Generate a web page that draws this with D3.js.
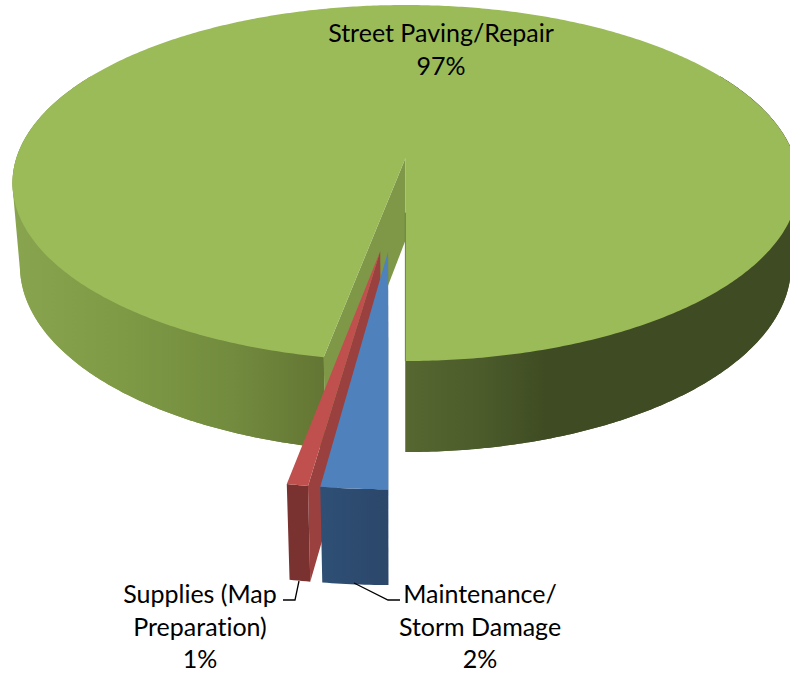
<!DOCTYPE html>
<html>
<head>
<meta charset="utf-8">
<script src="https://cdn.jsdelivr.net/npm/d3@7/dist/d3.min.js"></script>
<style>html,body{margin:0;padding:0;background:#fff;overflow:hidden}svg{display:block}text{font-variant-ligatures:none}</style>
</head>
<body>
<div id="chart"></div>
<script>
// ---- data ----
const categories = ["Maintenance/ Storm Damage", "Supplies (Map Preparation)", "Street Paving/Repair"];
const values = [2.2, 0.7, 97.1];
const percentLabels = ["2%", "1%", "97%"];
const labelLines = [["Maintenance/", "Storm Damage"], ["Supplies (Map", "Preparation)"], ["Street Paving/Repair"]];

// ---- view / style ----
const W = 790, H = 673;
const cx = 405.5, cy = 158, Rx = 389.1, Ry = 174.5, Depth = 83.8, kv = 0.1405, kz = 0.019;
const explodeDist = [0.5, 0.5, 0];
const explodeShift = [0.0143, -0.039, 0];
const explodeSpin = [-0.0063, 0, 0];
const topCol = ["#4f81bd", "#c0504d", "#9bbb59"];
const frontCol = ["#2f4d72", "#7a3230", null];
const cutCol = ["#3f6596", "#9a403e", "#7f9848"];

const svg = d3.select("#chart").append("svg").attr("width", W).attr("height", H);
const defs = svg.append("defs");
function grad(id, x1, x2, stops){
  const g = defs.append("linearGradient").attr("id", id).attr("gradientUnits","userSpaceOnUse")
    .attr("x1",x1).attr("x2",x2).attr("y1",0).attr("y2",0);
  stops.forEach(s => g.append("stop").attr("offset",s[0]).attr("stop-color",s[1]));
}
grad("wallL", 15, 325, [[0,"#89a44f"],[0.35,"#7e9a45"],[0.7,"#728b3e"],[1,"#637533"]]);
grad("wallR", 406, 790, [[0,"#566731"],[0.2,"#4b5b2a"],[0.36,"#3f4c23"],[1,"#3f4c23"]]);
grad("blueF", 320, 390, [[0,"#2f4f75"],[1,"#2b476a"]]);

function project(u, v, z){
  const w = 1 - kv*v + kz*z;
  return [cx + Rx*u/w, cy + (Ry*v + Depth*z)/w];
}
const pie = d3.pie().sort(null).value(d=>d).startAngle(Math.PI).endAngle(3*Math.PI);
const arcs = pie(values);
const line = d3.line();

const pieces = arcs.map((a,i)=>{
  const mid = (a.startAngle+a.endAngle)/2 + explodeShift[i];
  const ou = Math.sin(mid)*explodeDist[i], ov = -Math.cos(mid)*explodeDist[i];
  const sp = explodeSpin[i];
  const P = (r,ang,z)=>project(ou + r*Math.sin(ang+sp), ov - r*Math.cos(ang+sp), z);
  const rim = (from,to,z)=>{
    const n = Math.max(2, Math.ceil(Math.abs(to-from)/0.01));
    return d3.range(n+1).map(j=>P(1, from+(to-from)*j/n, z));
  };
  return {a,i,P,rim};
});

function poly(g, pts, fill){
  return g.append("path").attr("d", line(pts)+"Z").attr("fill", fill);
}
function wall(g, p, from, to, fill){
  const top = p.rim(from,to,0), bot = p.rim(from,to,1);
  poly(g, d3.polygonHull(top.concat(bot)), fill);   // fills the silhouette between the two rims
  poly(g, top.concat(bot.slice().reverse()), fill);
}
const deg = Math.PI/180;
const g = svg.append("g");

// street paving slice (back)
(function(){
  const p = pieces[2], s = p.a.startAngle, e = p.a.endAngle;
  wall(g, p, s, 300*deg, "url(#wallL)");
  wall(g, p, 420*deg, e, "url(#wallR)");
  poly(g, [p.P(0,0,0), p.P(1,s,0), p.P(1,s,1), p.P(0,0,1)], cutCol[2]);
  g.append("path").attr("d", line([p.P(0.3,e,0), p.P(1,e,0)])).attr("stroke","#4c5c2b").attr("stroke-width",1.2).attr("fill","none");
  poly(g, [p.P(0,0,0)].concat(p.rim(s,e,0)), topCol[2]);
})();

// exploded slices: supplies behind maintenance
[1,0].forEach(i=>{
  const p = pieces[i], s = p.a.startAngle, e = p.a.endAngle;
  poly(g, [p.P(0,0,0), p.P(1,s,0), p.P(1,s,1), p.P(0,0,1)], cutCol[i]);
  poly(g, p.rim(s,e,0).concat(p.rim(s,e,1).reverse()), i===0 ? "url(#blueF)" : frontCol[i]);
  poly(g, [p.P(0,0,0)].concat(p.rim(s,e,0)), topCol[i]);
});

// leader lines
const leaders = [
  [[354,583],[388,600],[400,600]],
  [[299,581],[295,600],[283,600]]
];
leaders.forEach(l=>svg.append("path").attr("d",line(l)).attr("fill","none").attr("stroke","#000").attr("stroke-width",1.3));

// labels
const textPos = [[480,603],[200,603],[441,42]];
labelLines.forEach((lines,i)=>{
  const t = svg.append("text").attr("text-anchor","middle")
    .attr("font-family","Lato, 'Open Sans', sans-serif").attr("font-size",25).attr("fill","#000");
  lines.concat(percentLabels[i]).forEach((s,j)=>t.append("tspan").attr("x",textPos[i][0]).attr("y",textPos[i][1]+j*32.7).text(s));
});
</script>
</body>
</html>
